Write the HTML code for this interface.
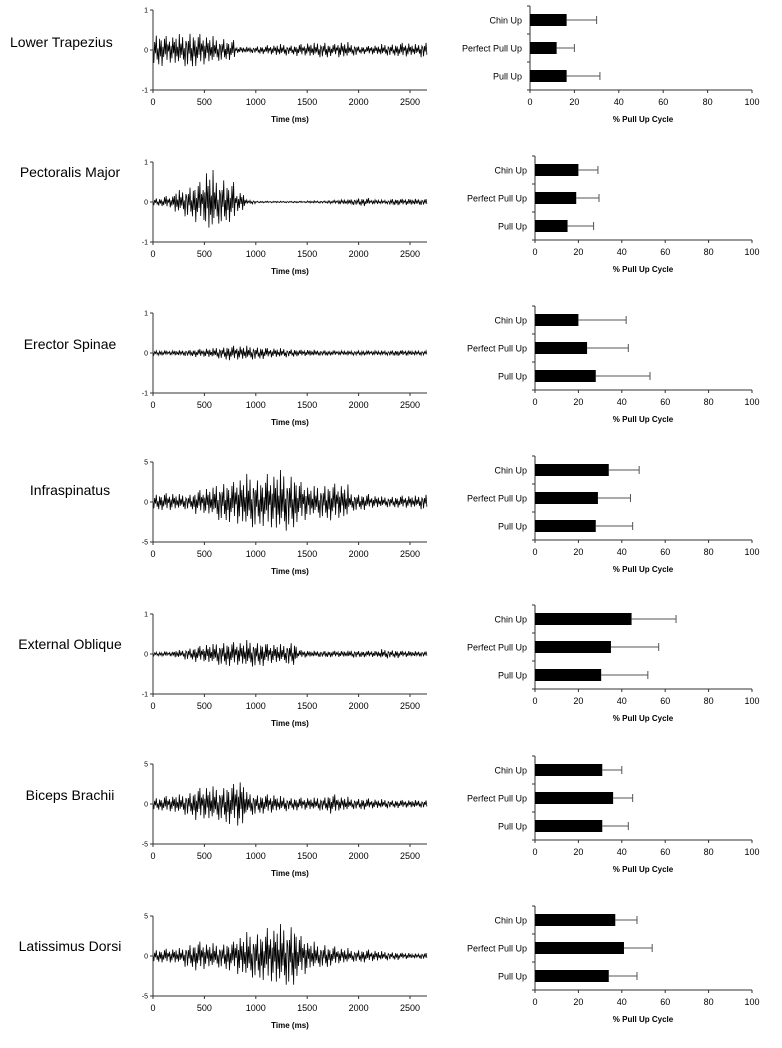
<!DOCTYPE html>
<html><head><meta charset="utf-8"><style>
html,body{margin:0;padding:0;background:#fff;}
svg{display:block;font-family:"Liberation Sans",sans-serif;}
</style></head><body>
<svg id="fig" width="782" height="1048" viewBox="0 0 782 1048"></svg>
<script>
const muscles = ["Lower Trapezius","Pectoralis Major","Erector Spinae","Infraspinatus","External Oblique","Biceps Brachii","Latissimus Dorsi"];
const emgRange = [1,1,1,5,1,5,5];
// peak amplitude per 100 ms bin (0..2700 ms)
const env1 = [0.4,0.35,0.4,0.45,0.4,0.35,0.3,0.25,0.08,0.08,0.1,0.12,0.15,0.12,0.15,0.18,0.2,0.15,0.2,0.15,0.1,0.12,0.15,0.15,0.18,0.15,0.2];
const env2 = [0.1,0.15,0.3,0.4,0.5,0.8,0.6,0.5,0.25,0.05,0.02,0.02,0.02,0.02,0.02,0.03,0.03,0.04,0.06,0.08,0.1,0.06,0.05,0.08,0.08,0.08,0.08];
const env3 = [0.06,0.06,0.07,0.08,0.1,0.12,0.15,0.18,0.18,0.18,0.15,0.12,0.12,0.1,0.08,0.08,0.07,0.06,0.06,0.06,0.06,0.06,0.06,0.07,0.07,0.06,0.06];
const env4 = [1,1.1,1,1,1.5,1.8,2.5,2.5,3,3.5,3,3.5,4,3.5,2.5,2,2.2,2.3,2.2,1.2,1,0.8,0.7,0.7,0.8,0.8,1];
const env5 = [0.05,0.06,0.1,0.15,0.2,0.25,0.3,0.3,0.3,0.35,0.3,0.25,0.25,0.3,0.1,0.08,0.08,0.08,0.08,0.1,0.08,0.08,0.12,0.1,0.08,0.07,0.07];
const env6 = [0.8,1,1.2,1.5,2,2.2,2.2,2.5,3,1.5,1.2,1.2,1,0.8,0.8,0.8,0.9,1.2,0.9,0.7,0.7,0.6,0.6,0.5,0.5,0.5,0.5];
const env7 = [0.8,0.9,1,1.5,1.8,1.6,1.6,1.8,2.5,3,3,3.5,4,4,2.5,1.8,1.5,1.2,1,0.8,0.8,0.7,0.6,0.5,0.4,0.3,0.4];
const envelopes = [env1,env2,env3,env4,env5,env6,env7];
const wave = [0.3,-0.8,0.5,-0.2,0.9,-0.6,0.1,-0.9,0.7,-0.4,0.6,-1,0.2,-0.5,0.8,-0.3,1,-0.7,0.4,-0.1,0.6,-0.9,0.3,-0.6,0.9,-0.2,0.5,-0.8,0.7,-0.4,0.2,-0.7,1,-0.5,0.4,-0.3,0.8,-0.6,0.1,-0.9,0.5];
const timeTicks = [0,500,1000,1500,2000,2500];
const barCategories = ["Chin Up","Perfect Pull Up","Pull Up"];
const barMeans = [[16.5,12,16.5],[20,19,15],[20,24,28],[34,29,28],[44.5,35,30.5],[31,36,31],[37,41,34]];
const barErrors = [[30,20,31.5],[29,29.5,27],[42,43,53],[48,44,45],[65,57,52],[40,45,43],[47,54,47]];
const pctTicks = [0,20,40,60,80,100];

const NS="http://www.w3.org/2000/svg";
const svg=document.getElementById('fig');
function mk(tag,attrs,parent,text){const e=document.createElementNS(NS,tag);for(const k in attrs)e.setAttribute(k,attrs[k]);if(text!==undefined)e.textContent=text;(parent||svg).appendChild(e);return e;}

const emgTop=[10,162,313,462,614,764,916];
const labelY=[47,177,349,495,649,800,951];
const barBase=[90,240,390,540,689,840,990];
const emgX0=153, emgPx=0.1028;
const xT=t=>emgX0+t*emgPx;

for(let r=0;r<7;r++){
  const g=mk('g',{});
  
  
  const lab=mk('text',{x:70,y:labelY[r],'font-size':14,'text-anchor':'middle'},g,muscles[r]);
  
  
  if(r===0){lab.setAttribute('x',10);lab.setAttribute('text-anchor','start');}
  const top=emgTop[r], bot=top+80, zero=top+40, R=emgRange[r];
  const yV=v=>zero-v/R*40;
  const eg=mk('g',{},g);
  
  
  let d='';const env=envelopes[r];
  let k=0;
  for(let t=0;t<=2665;t+=8){
    const bin=Math.min(env.length-1,Math.floor(t/100));
    const v=env[bin]*wave[k%wave.length];k++;
    d+=(t===0?'M':'L')+xT(t).toFixed(2)+' '+yV(v).toFixed(2);
  }
  const tr=mk('path',{d:d,fill:'none',stroke:'#000','stroke-width':0.8},eg);
  
  
  mk('line',{x1:emgX0,y1:top,x2:emgX0,y2:bot,stroke:'#333','stroke-width':1},eg);
  mk('line',{x1:emgX0,y1:bot,x2:427,y2:bot,stroke:'#333','stroke-width':1},eg);
  [R,0,-R].forEach(v=>{
    mk('line',{x1:emgX0-3,y1:yV(v),x2:emgX0,y2:yV(v),stroke:'#333'},eg);
    const tl=mk('text',{x:emgX0-5,y:yV(v)+2.5,'font-size':7,'text-anchor':'end'},eg,String(v));
    
    
  });
  timeTicks.forEach(t=>{
    mk('line',{x1:xT(t),y1:bot,x2:xT(t),y2:bot+3,stroke:'#333'},eg);
    const tl=mk('text',{x:xT(t),y:bot+15,'font-size':9,'text-anchor':'middle'},eg,String(t));
    
    
  });
  const xt=mk('text',{x:290,y:bot+32,'font-size':8,'font-weight':'bold','text-anchor':'middle'},eg,'Time (ms)');
  
  
  const B=barBase[r], bx0=(r===0?530:535), bx1=752;
  const xP=p=>bx0+p/100*(bx1-bx0);
  const bg=mk('g',{},g);
  
  
  mk('line',{x1:bx0,y1:B-84,x2:bx0,y2:B,stroke:'#333'},bg);
  mk('line',{x1:bx0,y1:B,x2:bx1,y2:B,stroke:'#333'},bg);
  [0,1,2,3].forEach(i=>mk('line',{x1:bx0-3,y1:B-i*28,x2:bx0,y2:B-i*28,stroke:'#333'},bg));
  pctTicks.forEach(p=>{
    mk('line',{x1:xP(p),y1:B,x2:xP(p),y2:B+3,stroke:'#333'},bg);
    const tl=mk('text',{x:xP(p),y:B+15,'font-size':9,'text-anchor':'middle'},bg,String(p));
    
    
  });
  const pt=mk('text',{x:643,y:B+32,'font-size':8,'font-weight':'bold','text-anchor':'middle'},bg,'% Pull Up Cycle');
  
  
  barCategories.forEach((c,i)=>{
    const cy=B-70+i*28;
    const cl=mk('text',{x:bx0-8,y:cy+3.5,'font-size':9,'text-anchor':'end'},bg,c);
    
    
    const bar=mk('rect',{x:bx0,y:cy-6,width:xP(barMeans[r][i])-bx0,height:12,fill:'#000'},bg);
    
    
    const ex=xP(barErrors[r][i]);
    const eb=mk('path',{d:`M${xP(barMeans[r][i])} ${cy}H${ex}M${ex} ${cy-4}V${cy+4}`,stroke:'#555','stroke-width':1,fill:'none'},bg);
    
    
  });
}
</script>
</body></html>
